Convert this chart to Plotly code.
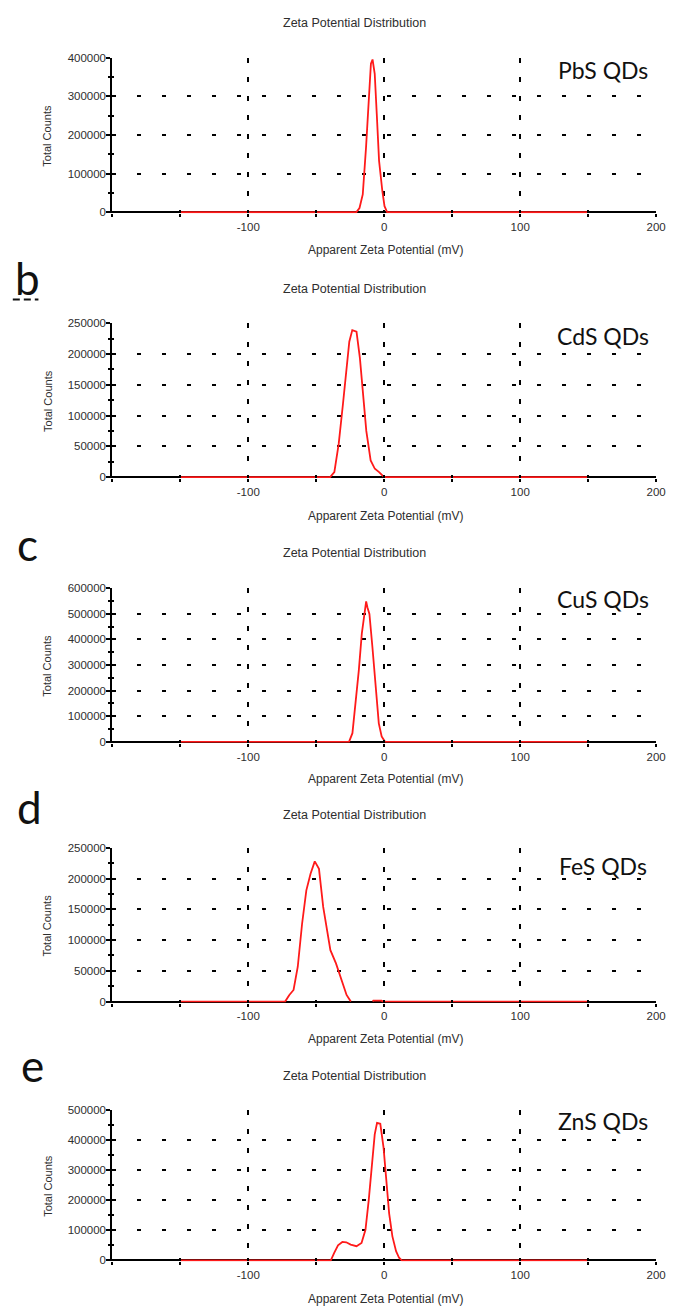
import plotly.graph_objects as go

W, H = 677, 1311

# ---------------- data ----------------
pbs_mv = [-150, -20.6, -18.2, -15.8, -13.4, -11.5, -9.8, -8.6, -7.0, -5.5, -3.8, -1.4, 0.2, 2.2, 150]
pbs_counts = [0, 0, 11000, 46000, 167000, 298000, 384000, 395000, 358000, 254000, 133000, 55000, 15600, 0, 0]

cds_mv = [-150, -39.8, -36.7, -33.5, -30.4, -27.9, -25.7, -23.5, -20.4, -17.9, -15.4, -13.2, -10.0, -6.9, -3.8, -0.6, 0.9, 150]
cds_counts = [0, 0, 8000, 53800, 118000, 172000, 220000, 239000, 236500, 193500, 129000, 75000, 27000, 13400, 8000, 1000, 0, 0]

cus_mv = [-150, -25.9, -23.4, -21.2, -18.7, -16.5, -14.3, -13.3, -12.4, -10.9, -8.7, -6.5, -4.0, -1.9, 0.6, 150]
cus_counts = [0, 0, 33600, 137000, 279000, 422000, 518000, 548000, 525000, 499000, 370000, 215000, 72000, 20700, 0, 0]

fes_mv = [-150, -72.9, -69.8, -66.7, -63.6, -60.4, -57.3, -54.2, -51.1, -48.0, -44.9, -41.7, -39.6, -35.5, -30.8, -27.7, -24.6,
          None, -8.5, -8.0, -2.0, -1.0, 150]
fes_counts = [0, 0, 10800, 18900, 56700, 127000, 181000, 208000, 228000, 216000, 154000, 111000, 83700, 62100, 29700, 10800, 0,
              None, 0, 1500, 1500, 0, 0]

zns_mv = [-150, -39.3, -36.8, -34.0, -30.8, -27.9, -24.7, -20.4, -16.7, -13.8, -11.4, -8.9, -7.0, -5.3, -2.9, -0.5, 1.5, 3.6, 6.0, 8.7, 10.9, 12.9, 150]
zns_counts = [0, 0, 25100, 50200, 61100, 60000, 52400, 47000, 57900, 101500, 200000, 320000, 418000, 456000, 453000, 374000, 265000, 156000, 79700, 30600, 8700, 0, 0]

series_mv = [pbs_mv, cds_mv, cus_mv, fes_mv, zns_mv]
series_counts = [pbs_counts, cds_counts, cus_counts, fes_counts, zns_counts]
sample_labels = ["PbS QDs", "CdS QDs", "CuS QDs", "FeS QDs", "ZnS QDs"]
panel_letters = ["", "b", "c", "d", "e"]
y_max = [400000, 250000, 600000, 250000, 500000]
y_step = [100000, 50000, 100000, 50000, 100000]

x_major = [-200, -100, 0, 100, 200]
x_major_text = ["", "-100", "0", "100", "200"]
x_minor = [-150, -50, 50, 150]

title_text = "Zeta Potential Distribution"
x_title = "Apparent Zeta Potential (mV)"
y_title = "Total Counts"

# ---------------- layout geometry (pixels) ----------------
plot_top = [52, 320, 587, 849, 1113]
plot_bot = [209, 476, 743, 1005, 1266]
plot_left, plot_right = 114, 666
title_y = [17, 285, 552, 816, 1079]
xlab_y = [246, 514, 780, 1042, 1304]
label_dy = [13, 13, 11, 18, 11]   # sample label centre below frame top
letter_pos = [None, (28, 274), (28, 543), (30, 808), (33, 1068)]

FONT = "Liberation Sans"
TXT = "#2e2e2e"


def px_x(p):
    return p / W


def px_y(p):
    return 1 - p / H


def ax_name(kind, n):
    return kind if n == 1 else f"{kind}{n}"


fig = go.Figure()
layout = dict(
    width=W, height=H, margin=dict(l=0, r=0, t=0, b=0),
    paper_bgcolor="white", plot_bgcolor="white", showlegend=False,
    annotations=[], shapes=[],
)

xdom = [px_x(plot_left), px_x(plot_right)]

for i in range(5):
    n = i + 1
    no = i + 6
    ydom = [px_y(plot_bot[i]), px_y(plot_top[i])]
    h_px = plot_bot[i] - plot_top[i]
    y_lo = -y_max[i] / h_px  # zero sits one pixel above the frame edge
    yt = list(range(0, y_max[i] + 1, y_step[i]))
    ym = [v + y_step[i] / 2 for v in yt[:-1]]

    tick_common = dict(tickcolor="black", tickwidth=1.5)
    layout[ax_name("xaxis", n)] = dict(
        domain=xdom, range=[-200, 200], anchor=ax_name("y", n),
        tickmode="array", tickvals=x_major, ticktext=x_major_text,
        ticks="outside", ticklen=3, **tick_common,
        minor=dict(tickmode="array", tickvals=x_minor, ticks="outside", ticklen=3,
                   tickcolor="black", tickwidth=1.5, showgrid=False),
        showline=False,
        showgrid=True, gridcolor="black", gridwidth=2, griddash="5px,14px",
        zeroline=False, ticklabelstandoff=0,
        tickfont=dict(family=FONT, size=11.5, color=TXT), fixedrange=True,
    )
    layout[ax_name("yaxis", n)] = dict(
        domain=ydom, range=[y_lo, y_max[i]], anchor=ax_name("x", n),
        tickmode="array", tickvals=yt, ticktext=[str(v) for v in yt],
        ticks="outside", ticklen=4, **tick_common,
        minor=dict(tickmode="array", tickvals=ym, ticks="outside", ticklen=2,
                   tickcolor="black", tickwidth=1.5, showgrid=False),
        showline=True, linecolor="black", linewidth=2,
        showgrid=True, gridcolor="black", gridwidth=2, griddash="4px,21px",
        zeroline=True, zerolinecolor="black", zerolinewidth=2,
        ticklabelstandoff=-2,
        tickfont=dict(family=FONT, size=11.5, color=TXT), fixedrange=True,
    )
    # overlay axes for inward half of the crossing ticks
    layout[ax_name("xaxis", no)] = dict(
        overlaying=ax_name("x", n), anchor=ax_name("y", n), range=[-200, 200],
        tickmode="array", tickvals=x_major, ticks="inside", ticklen=3, **tick_common,
        minor=dict(tickmode="array", tickvals=x_minor, ticks="inside", ticklen=3,
                   tickcolor="black", tickwidth=1.5, showgrid=False),
        showticklabels=False, showline=False, showgrid=False, zeroline=False, fixedrange=True,
    )
    layout[ax_name("yaxis", no)] = dict(
        overlaying=ax_name("y", n), anchor=ax_name("x", n), range=[y_lo, y_max[i]],
        tickmode="array", tickvals=yt, ticks="inside", ticklen=4, **tick_common,
        minor=dict(tickmode="array", tickvals=ym, ticks="inside", ticklen=2,
                   tickcolor="black", tickwidth=1.5, showgrid=False),
        showticklabels=False, showline=False, showgrid=False, zeroline=False, fixedrange=True,
    )
    fig.add_trace(go.Scatter(x=[None], y=[None], xaxis=ax_name("x", no), yaxis=ax_name("y", n),
                             hoverinfo="skip", showlegend=False))
    fig.add_trace(go.Scatter(x=[None], y=[None], xaxis=ax_name("x", n), yaxis=ax_name("y", no),
                             hoverinfo="skip", showlegend=False))

    # the distribution curve
    fig.add_trace(go.Scatter(
        x=series_mv[i], y=series_counts[i], mode="lines",
        line=dict(color="#ff1a1a", width=1.8), connectgaps=False,
        xaxis=ax_name("x", n), yaxis=ax_name("y", n), hoverinfo="skip",
    ))

    # sample label (drawn straight over the grid)
    layout["annotations"].append(dict(
        text=sample_labels[i], xref=f"{ax_name('x', n)} domain", yref=f"{ax_name('y', n)} domain",
        x=0.903, y=1 - label_dy[i] / h_px, xanchor="center", yanchor="middle", showarrow=False,
        font=dict(family="Lato", size=23, color="#111"),
    ))
    # panel title
    layout["annotations"].append(dict(
        text=title_text, xref="paper", yref="paper", x=px_x(360), y=px_y(title_y[i]),
        xanchor="center", yanchor="middle", showarrow=False,
        font=dict(family=FONT, size=12.5, color=TXT),
    ))
    # x title
    layout["annotations"].append(dict(
        text=x_title, xref="paper", yref="paper", x=px_x(391), y=px_y(xlab_y[i]),
        xanchor="center", yanchor="middle", showarrow=False,
        font=dict(family=FONT, size=12, color=TXT),
    ))
    # y title
    layout["annotations"].append(dict(
        text=y_title, xref="paper", yref="paper", x=px_x(48),
        y=px_y((plot_top[i] + plot_bot[i]) / 2), textangle=-90,
        xanchor="center", yanchor="middle", showarrow=False,
        font=dict(family=FONT, size=11, color=TXT),
    ))
    if panel_letters[i]:
        lx, ly = letter_pos[i]
        layout["annotations"].append(dict(
            text=panel_letters[i], xref="paper", yref="paper", x=px_x(lx), y=px_y(ly),
            xanchor="center", yanchor="middle", showarrow=False,
            font=dict(family="Lato", size=44, color="#111"),
        ))

# dashed underline under "b"
layout["shapes"].append(dict(
    type="line", xref="paper", yref="paper", x0=px_x(13), x1=px_x(39), y0=px_y(296), y1=px_y(296),
    line=dict(color="#111", width=2, dash="7px,4px"),
))

fig.update_layout(**layout)
fig.write_html(
    "out.html",
    config={"displayModeBar": False, "responsive": False},
    post_script="document.body.style.margin='0';document.body.style.overflow='hidden';",
)
